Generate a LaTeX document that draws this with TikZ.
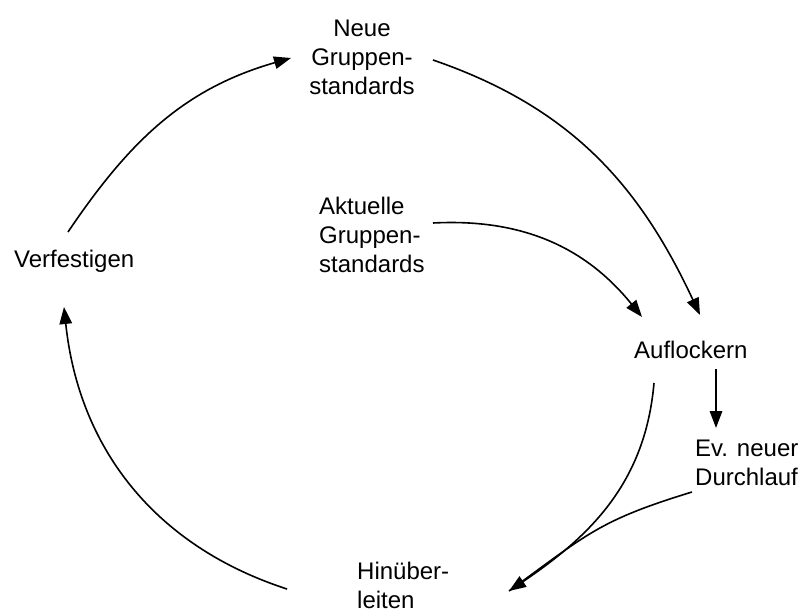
\documentclass[tikz,border=0pt]{standalone}
\usepackage{fontspec}
\setmainfont{Liberation Sans}
\usetikzlibrary{arrows.meta}
\tikzset{
  lbl/.style={inner sep=0pt, font=\fontsize{24}{29}\selectfont},
  conn/.style={line width=1.6pt, -{Triangle[length=17pt,width=12.5pt]}},
  plain/.style={line width=1.6pt}
}
\begin{document}
\begin{tikzpicture}[x=1pt,y=1pt]
\useasboundingbox (0,0) rectangle (800,-613);
% nodes
\node[lbl, anchor=north, align=center] (neue) at (362,-20) {Neue\\Gruppen-\\standards};
\node[lbl, anchor=north west, align=left] (akt) at (319,-197) {Aktuelle\\Gruppen-\\standards};
\node[lbl, anchor=north west] (verf) at (14,-250) {Verfestigen};
\node[lbl, anchor=north west] (aufl) at (634,-341) {Auflockern};
\node[lbl, anchor=north west, align=left] (ev) at (695,-440) {Ev. neuer\\Durchlauf};
\node[lbl, anchor=north west, align=left] (hin) at (357,-562) {Hinüber-\\leiten};
% connector end points
\coordinate (a1s) at (68,-232);  \coordinate (a1e) at (291,-58);
\coordinate (a2s) at (433,-60);  \coordinate (a2e) at (700,-315);
\coordinate (a3s) at (433,-223); \coordinate (a3e) at (642,-317);
\coordinate (a4s) at (716,-369); \coordinate (a4e) at (716,-428);
\coordinate (a5s) at (654,-383); \coordinate (a5e) at (509,-591);
\coordinate (a5b) at (692,-492);
\coordinate (a6s) at (287,-589); \coordinate (a6e) at (64,-307);
% connectors
\draw[conn] (a1s) to[out=56,in=196] (a1e);
\draw[conn] (a2s) to[out=-19,in=115] (a2e);
\draw[conn] (a3s) to[out=3,in=129] (a3e);
\draw[conn] (a4s) -- (a4e);
\draw[conn] (a5s) to[out=-95,in=34] (a5e);
\draw[plain] (a5b) to[out=197,in=36,looseness=1.2] (a5e);
\draw[conn] (a6s) to[out=162,in=-84] (a6e);
\end{tikzpicture}
\end{document}
